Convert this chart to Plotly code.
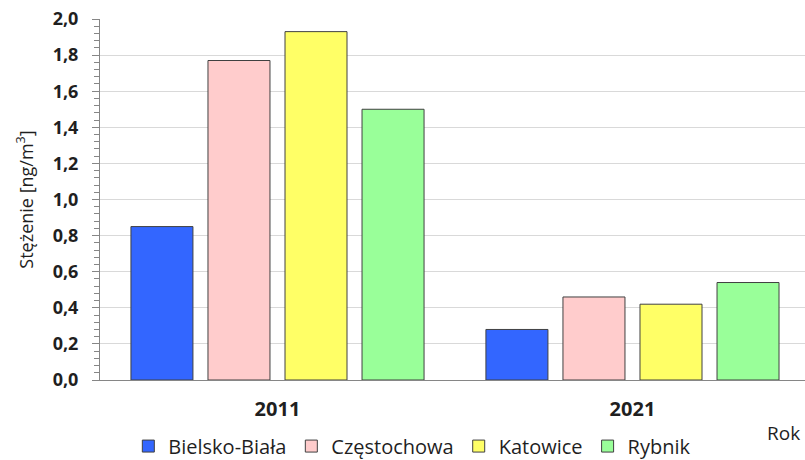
import plotly.graph_objects as go

years = ["2011", "2021"]
cities = ["Bielsko-Biała", "Częstochowa", "Katowice", "Rybnik"]
values = {
    "Bielsko-Biała": [0.85, 0.28],
    "Częstochowa": [1.77, 0.46],
    "Katowice": [1.93, 0.42],
    "Rybnik": [1.50, 0.54],
}
colors = ["#3366FF", "#FFCCCC", "#FFFF66", "#99FF99"]
y_ticks = [0.0, 0.2, 0.4, 0.6, 0.8, 1.0, 1.2, 1.4, 1.6, 1.8, 2.0]

FONT = "Open Sans"
TXT = "#1F1F1F"

fig = go.Figure()
for city, col in zip(cities, colors):
    fig.add_trace(go.Bar(
        x=years, y=values[city], name=city,
        marker=dict(color=col, line=dict(color="#404040", width=1)),
    ))

fig.update_layout(
    width=805, height=460,
    margin=dict(l=100, r=0, t=19, b=80, autoexpand=False),
    plot_bgcolor="white", paper_bgcolor="white",
    barmode="group", bargap=0.132, bargroupgap=0.195,
    separators=", ",
    font=dict(family=FONT, size=18, color=TXT),
    showlegend=True,
    legend=dict(orientation="h", x=0.443, xanchor="center", y=-0.183, yanchor="middle",
                font=dict(size=20, color=TXT), itemwidth=30,
                traceorder="normal"),
    xaxis=dict(type="category", range=[-0.5, 1.486], showline=True, linecolor="#868686",
               linewidth=1, ticks="", tickfont=dict(size=20, color=TXT, weight="bold"),
               ticklabelstandoff=11, showgrid=False, automargin=False),
    yaxis=dict(range=[0, 2.0], tickvals=y_ticks, tickformat=".1f",
               showline=True, linecolor="#868686", linewidth=1,
               ticks="outside", ticklen=7, tickcolor="#868686",
               tickfont=dict(size=18, color=TXT, weight="bold"),
               ticklabelstandoff=10,
               showgrid=True, gridcolor="#D9D9D9", gridwidth=1,
               minor=dict(dtick=0.04, ticks="outside", ticklen=5, tickcolor="#868686", showgrid=False),
               title=dict(text="Stężenie [ng/m<sup>3</sup>]", font=dict(size=18, color=TXT),
                          standoff=14),
               zeroline=False, automargin=False),
    annotations=[dict(text="Rok", x=(783 - 100) / 705, y=(380 - 433) / 361,
                      xref="paper", yref="paper", xanchor="center", yanchor="middle",
                      showarrow=False, font=dict(size=19, color=TXT))],
)

fig.write_html("out.html", config={"displayModeBar": False},
               post_script="document.body.style.margin='0';document.body.style.overflow='hidden';")
